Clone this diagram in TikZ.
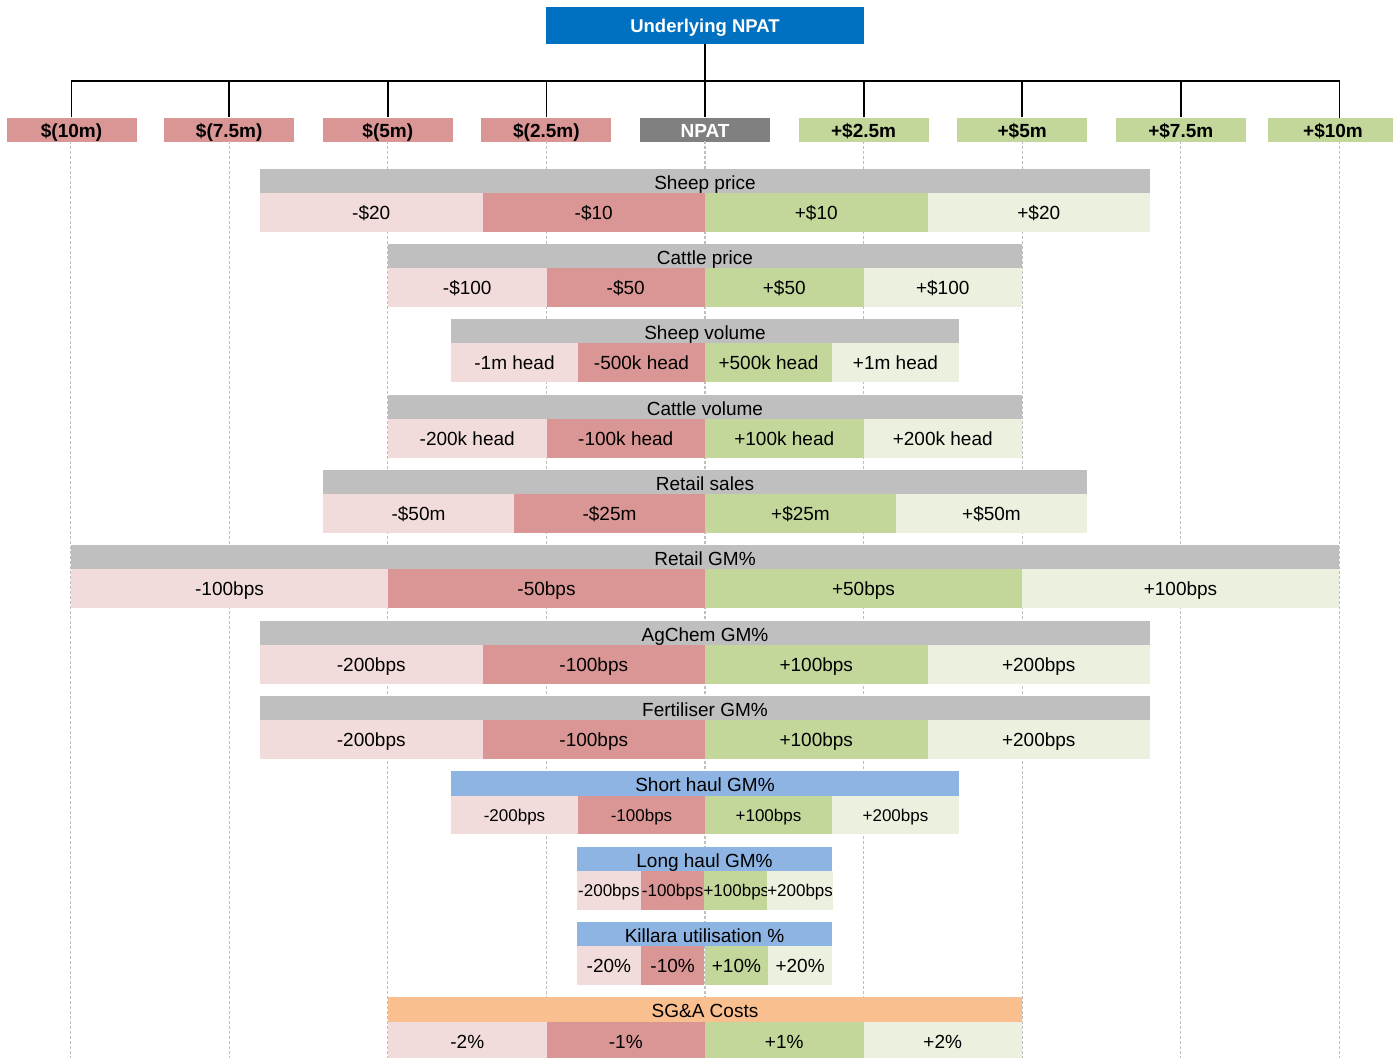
\documentclass[tikz,border=0pt]{standalone}
\usepackage{fontspec}
\setmainfont{Liberation Sans}
\usetikzlibrary{positioning}
\definecolor{npatblue}{HTML}{0070C0}
\definecolor{npatgrey}{HTML}{808080}
\definecolor{hdrgrey}{HTML}{BFBFBF}
\definecolor{hdrsky}{HTML}{8DB4E2}
\definecolor{hdrpeach}{HTML}{FABF8F}
\definecolor{redhi}{HTML}{DA9694}
\definecolor{redlo}{HTML}{F2DCDB}
\definecolor{greenhi}{HTML}{C4D79B}
\definecolor{greenlo}{HTML}{EBF1DE}
\tikzset{Sens/.style = {x=1pt, y=-1pt,
		every node/.style = {rectangle, inner sep=0pt, text=black,
			text height=13.7pt, text depth=0pt,
			font=\fontsize{19}{22}\selectfont},
		scalelabel/.style = {minimum width=130pt, minimum height=24pt, text height=16pt,
			font=\fontsize{19}{22}\selectfont\bfseries},
		hdr/.style = {fill=hdrgrey, minimum height=25pt, text height=16.5pt},
		hdrblue/.style = {hdr, fill=hdrsky},
		hdrorange/.style = {hdr, fill=hdrpeach},
		cell/.style = {minimum height=38.5pt},
		neglo/.style = {cell, fill=redlo},
		neghi/.style = {cell, fill=redhi},
		poshi/.style = {cell, fill=greenhi},
		poslo/.style = {cell, fill=greenlo},
		smalltext/.style = {font=\fontsize{17}{20}\selectfont, text height=12.6pt},
		gridline/.style = {draw=hdrgrey, line width=1.3pt, dash pattern=on 3pt off 2pt},
		treeline/.style = {draw=black, line width=1.8pt}
	}% end of Sens style
}
\begin{document}
\begin{tikzpicture}[Sens]
  \useasboundingbox (0,0) rectangle (1393,1058);
  % top of the tree
  \node[fill=npatblue, minimum width=318pt, minimum height=37pt, text height=13.3pt,
   text=white, font=\fontsize{18.5}{22}\selectfont\bfseries] (UN) at (705,25.5) {Underlying NPAT};
  \node[scalelabel, fill=redhi] (Tm4) at (71.5,129.5) {\$(10m)};
  \node[scalelabel, fill=redhi] (Tm3) at (229.2,129.5) {\$(7.5m)};
  \node[scalelabel, fill=redhi] (Tm2) at (387.8,129.5) {\$(5m)};
  \node[scalelabel, fill=redhi] (Tm1) at (546.4,129.5) {\$(2.5m)};
  \node[scalelabel, fill=npatgrey, text=white] (T0) at (705,129.5) {NPAT};
  \node[scalelabel, fill=greenhi] (T1) at (863.6,129.5) {+\$2.5m};
  \node[scalelabel, fill=greenhi] (T2) at (1022.2,129.5) {+\$5m};
  \node[scalelabel, fill=greenhi] (T3) at (1180.8,129.5) {+\$7.5m};
  \node[scalelabel, fill=greenhi] (T4) at (1333,129.5) {+\$10m};
  \coordinate (hub) at (705,81);
  \draw[treeline] (UN.south) -- (T0.north);
  \draw[treeline] (Tm4.north) |- (hub) -| (1339.4,117.5);
  \foreach \n in {m3,m2,m1,1,2,3}
   \draw[treeline] (T\n.north) -- (T\n.north |- hub);

  % dashed guides behind the bars
  \foreach \i in {-4,...,4}
   \draw[gridline] ({705+158.6*\i},141) -- ({705+158.6*\i},1058);

  \begin{scope}[yshift=-168pt] % sheep price
   \node[hdr, minimum width=890pt] (SPh) at (705,13) {Sheep price};
   \node[neglo, minimum width=222.5pt] (SP1) at (371.25,44.25) {-\$20};
   \node[neghi, minimum width=222.5pt] (SP2) at (593.75,44.25) {-\$10};
   \node[poshi, minimum width=222.5pt] (SP3) at (816.25,44.25) {+\$10};
   \node[poslo, minimum width=222.5pt] (SP4) at (1038.75,44.25) {+\$20};
  \end{scope}

  \begin{scope}[yshift=-243pt] % cattle price
   \node[hdr, minimum width=634pt] (CPh) at (705,13) {Cattle price};
   \node[neglo, minimum width=158.5pt] (CP1) at (467.25,44.25) {-\$100};
   \node[neghi, minimum width=158.5pt] (CP2) at (625.75,44.25) {-\$50};
   \node[poshi, minimum width=158.5pt] (CP3) at (784.25,44.25) {+\$50};
   \node[poslo, minimum width=158.5pt] (CP4) at (942.75,44.25) {+\$100};
  \end{scope}

  \begin{scope}[yshift=-318pt] % sheep volume
   \node[hdr, minimum width=508pt] (SVh) at (705,13) {Sheep volume};
   \node[neglo, minimum width=127pt] (SV1) at (514.5,44.25) {-1m head};
   \node[neghi, minimum width=127pt] (SV2) at (641.5,44.25) {-500k head};
   \node[poshi, minimum width=127pt] (SV3) at (768.5,44.25) {+500k head};
   \node[poslo, minimum width=127pt] (SV4) at (895.5,44.25) {+1m head};
  \end{scope}

  \begin{scope}[yshift=-394pt] % cattle volume
   \node[hdr, minimum width=634pt] (CVh) at (705,13) {Cattle volume};
   \node[neglo, minimum width=158.5pt] (CV1) at (467.25,44.25) {-200k head};
   \node[neghi, minimum width=158.5pt] (CV2) at (625.75,44.25) {-100k head};
   \node[poshi, minimum width=158.5pt] (CV3) at (784.25,44.25) {+100k head};
   \node[poslo, minimum width=158.5pt] (CV4) at (942.75,44.25) {+200k head};
  \end{scope}

  \begin{scope}[yshift=-469pt] % retail sales
   \node[hdr, minimum width=764pt] (RSh) at (705,13) {Retail sales};
   \node[neglo, minimum width=191pt] (RS1) at (418.5,44.25) {-\$50m};
   \node[neghi, minimum width=191pt] (RS2) at (609.5,44.25) {-\$25m};
   \node[poshi, minimum width=191pt] (RS3) at (800.5,44.25) {+\$25m};
   \node[poslo, minimum width=191pt] (RS4) at (991.5,44.25) {+\$50m};
  \end{scope}

  \begin{scope}[yshift=-544pt] % retail margin
   \node[hdr, minimum width=1268pt] (RGh) at (705,13) {Retail GM\%};
   \node[neglo, minimum width=317pt] (RG1) at (229.5,44.25) {-100bps};
   \node[neghi, minimum width=317pt] (RG2) at (546.5,44.25) {-50bps};
   \node[poshi, minimum width=317pt] (RG3) at (863.5,44.25) {+50bps};
   \node[poslo, minimum width=317pt] (RG4) at (1180.5,44.25) {+100bps};
  \end{scope}

  \begin{scope}[yshift=-620pt] % agchem margin
   \node[hdr, minimum width=890pt] (AGh) at (705,13) {AgChem GM\%};
   \node[neglo, minimum width=222.5pt] (AG1) at (371.25,44.25) {-200bps};
   \node[neghi, minimum width=222.5pt] (AG2) at (593.75,44.25) {-100bps};
   \node[poshi, minimum width=222.5pt] (AG3) at (816.25,44.25) {+100bps};
   \node[poslo, minimum width=222.5pt] (AG4) at (1038.75,44.25) {+200bps};
  \end{scope}

  \begin{scope}[yshift=-695pt] % fertiliser margin
   \node[hdr, minimum width=890pt] (FGh) at (705,13) {Fertiliser GM\%};
   \node[neglo, minimum width=222.5pt] (FG1) at (371.25,44.25) {-200bps};
   \node[neghi, minimum width=222.5pt] (FG2) at (593.75,44.25) {-100bps};
   \node[poshi, minimum width=222.5pt] (FG3) at (816.25,44.25) {+100bps};
   \node[poslo, minimum width=222.5pt] (FG4) at (1038.75,44.25) {+200bps};
  \end{scope}

  \begin{scope}[yshift=-770pt] % short haul
   \node[hdrblue, minimum width=508pt, minimum height=26pt] (SHh) at (705,13.5) {Short haul GM\%};
   \node[neglo, smalltext, minimum width=127pt] (SH1) at (514.5,45) {-200bps};
   \node[neghi, smalltext, minimum width=127pt] (SH2) at (641.5,45) {-100bps};
   \node[poshi, smalltext, minimum width=127pt] (SH3) at (768.5,45) {+100bps};
   \node[poslo, smalltext, minimum width=127pt] (SH4) at (895.5,45) {+200bps};
  \end{scope}

  \begin{scope}[yshift=-846pt] % long haul
   \node[hdrblue, minimum width=255pt] (LHh) at (704.5,13) {Long haul GM\%};
   \node[neglo, smalltext, minimum width=63.75pt] (LH1) at (608.9,44.25) {-200bps};
   \node[neghi, smalltext, minimum width=63.75pt] (LH2) at (672.6,44.25) {-100bps};
   \node[poshi, smalltext, minimum width=63.75pt] (LH3) at (736.4,44.25) {+100bps};
   \node[poslo, smalltext, minimum width=63.75pt] (LH4) at (800.1,44.25) {+200bps};
  \end{scope}

  \begin{scope}[yshift=-921pt] % killara
   \node[hdrblue, minimum width=255pt] (KUh) at (704.5,13) {Killara utilisation \%};
   \node[neglo, minimum width=63.75pt] (KU1) at (608.9,44.25) {-20\%};
   \node[neghi, minimum width=63.75pt] (KU2) at (672.6,44.25) {-10\%};
   \node[poshi, minimum width=63.75pt] (KU3) at (736.4,44.25) {+10\%};
   \node[poslo, minimum width=63.75pt] (KU4) at (800.1,44.25) {+20\%};
  \end{scope}

  \begin{scope}[yshift=-996pt] % overheads
   \node[hdrorange, minimum width=634pt, minimum height=26pt] (SGh) at (705,13.5) {SG\&A Costs};
   \node[neglo, minimum width=158.5pt] (SG1) at (467.25,45.25) {-2\%};
   \node[neghi, minimum width=158.5pt] (SG2) at (625.75,45.25) {-1\%};
   \node[poshi, minimum width=158.5pt] (SG3) at (784.25,45.25) {+1\%};
   \node[poslo, minimum width=158.5pt] (SG4) at (942.75,45.25) {+2\%};
  \end{scope}
\end{tikzpicture}
\end{document}
